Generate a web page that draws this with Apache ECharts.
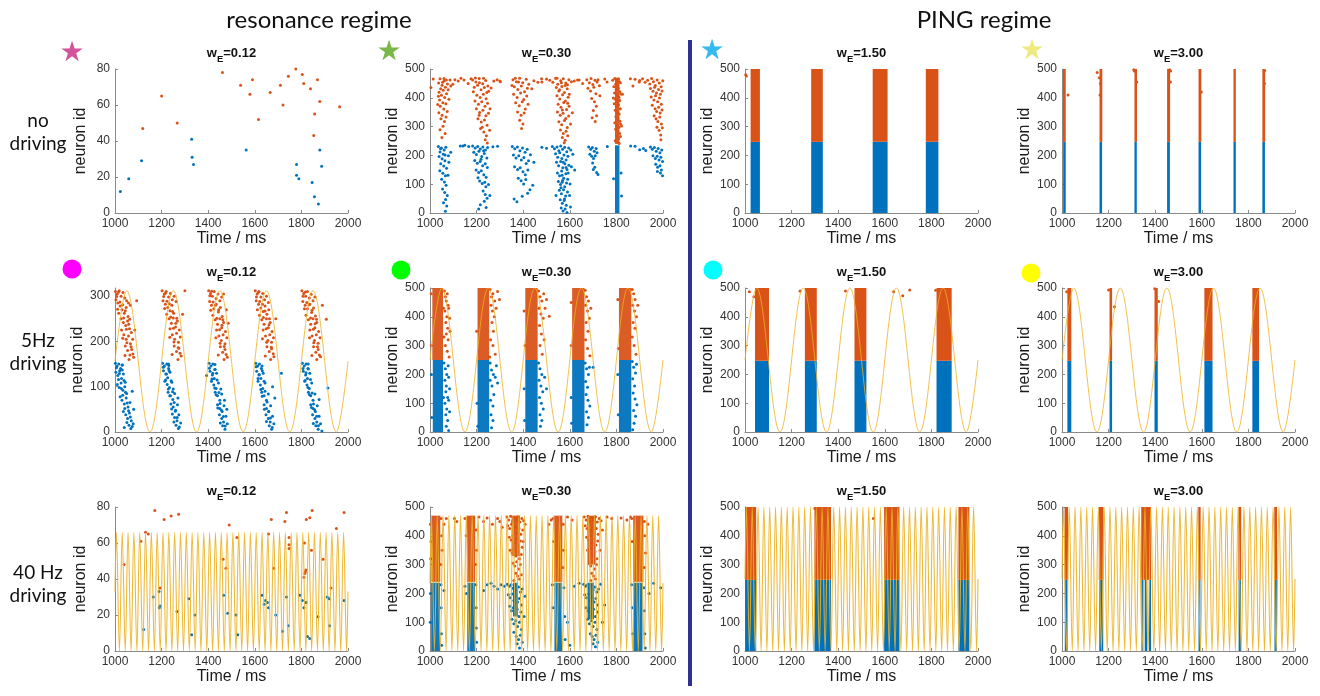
<!DOCTYPE html>
<html><head><meta charset="utf-8">
<script src="https://cdn.jsdelivr.net/npm/echarts@6/dist/echarts.min.js"></script>
<style>html,body{margin:0;padding:0;background:#fff}#c{width:1320px;height:696px}</style>
</head><body><div id="c"></div>
<script>
// ---------------- DATA ----------------
const timeTicks = [1000, 1200, 1400, 1600, 1800, 2000];
const weightLabels = ['0.12', '0.30', '1.50', '3.00'];
const rowLabels = ['no\ndriving', '5Hz\ndriving', '40 Hz\ndriving'];
const regimeLabels = ['resonance regime', 'PING regime'];
const yMaxRows = [[80, 500, 500, 500], [318, 500, 500, 500], [80, 500, 500, 500]];
const yIntervalRows = [[20, 100, 100, 100], [100, 100, 100, 100], [20, 100, 100, 100]];

// driving signals: extrema times (ms)
const driveStartEnd = [1000, 2000];
const drive5Peaks = [1050, 1250, 1450, 1650, 1850];
const drive5Troughs = [1150, 1350, 1550, 1750, 1950];
const drive40Peaks = [1006,1031,1056,1081,1106,1131,1156,1181,1206,1231,1256,1281,1306,1331,1356,1381,1406,1431,1456,1481,1506,1531,1556,1581,1606,1631,1656,1681,1706,1731,1756,1781,1806,1831,1856,1881,1906,1931,1956,1981];
const drive40Troughs = [1019,1044,1069,1094,1119,1144,1169,1194,1219,1244,1269,1294,1319,1344,1369,1394,1419,1444,1469,1494,1519,1544,1569,1594,1619,1644,1669,1694,1719,1744,1769,1794,1819,1844,1869,1894,1919,1944,1969,1994];
const drive5Amp = [312, 500, 500, 500];
const drive40Amp = [66, 470, 500, 500];

// ---- spikes: flat [t, id, ...]; lower = blue population, upper = orange population
// bursts: flat [tStart, tEnd, idLow, idHigh, ...] (densely filled spike blocks)
// no driving, wE=0.12
const nd012Lower = [1023,12, 1059,19, 1114,29, 1329,41, 1331,31, 1337,27, 1563,35, 1779,27, 1779,21, 1789,19, 1879,35, 1887,26, 1846,17, 1856,9, 1873,5];
const nd012Upper = [1119,47, 1200,65, 1267,50, 1461,78, 1539,71, 1579,66, 1590,74, 1616,52, 1666,67, 1710,71, 1721,60, 1744,76, 1776,80, 1804,77, 1810,72, 1839,69, 1869,74, 1879,62, 1857,55, 1853,43, 1964,59];
// no driving, wE=0.30
const nd030Upper = [1043,466, 1037,451, 1061,459, 1052,444, 1070,462, 1046,431, 1066,437, 1039,419, 1057,426, 1075,448, 1049,409, 1063,401, 1041,392, 1071,414, 1055,383, 1044,371, 1068,379, 1059,361, 1038,348, 1052,339, 1074,352, 1047,327, 1062,318, 1056,301, 1043,289, 1065,276, 1051,262, 1081,395, 1078,428, 1036,405, 1060,467, 1089,441, 1033,377, 1069,333, 1054,454,
 1004,436, 1014,465, 1086,462, 1107,463, 1121,458, 1146,462, 1164,450, 1098,447, 1133,468,
 1183,462, 1197,455, 1211,467, 1226,449, 1239,460, 1248,441, 1190,437, 1204,444, 1219,428, 1233,436, 1244,418, 1186,421, 1201,409, 1215,401, 1229,412, 1241,397, 1252,423, 1193,389, 1208,378, 1222,386, 1236,371, 1247,381, 1199,362, 1213,349, 1227,357, 1240,338, 1251,346, 1206,327, 1220,316, 1234,323, 1245,305, 1217,293, 1231,281, 1242,268, 1237,254, 1246,243, 1224,298, 1211,339, 1256,287, 1262,434, 1274,458, 1288,463, 1302,456, 1176,466, 1195,469, 1230,468, 1212,452, 1258,362,
 1356,463, 1371,456, 1385,468, 1398,452, 1413,464, 1424,447, 1362,438, 1377,429, 1392,441, 1406,421, 1418,433, 1359,412, 1374,401, 1389,417, 1402,394, 1415,406, 1368,383, 1383,372, 1396,386, 1409,361, 1376,351, 1391,339, 1404,347, 1385,322, 1399,309, 1393,293, 1421,378, 1437,431, 1446,459, 1463,454, 1479,466, 1352,443, 1366,468, 1380,455,
 1514,461, 1527,454, 1539,468, 1548,447, 1561,459, 1572,466, 1583,451, 1596,463, 1607,456, 1542,436, 1553,424, 1566,439, 1577,418, 1589,431, 1598,412, 1545,407, 1557,396, 1569,411, 1581,389, 1593,402, 1550,378, 1562,367, 1574,384, 1586,359, 1597,371, 1547,351, 1559,339, 1571,346, 1583,328, 1595,337, 1553,317, 1565,306, 1577,321, 1589,297, 1560,288, 1572,276, 1584,284, 1568,262, 1580,253, 1591,268, 1576,244, 1603,309, 1611,348, 1619,458, 1633,462, 1545,468, 1590,445, 1564,452, 1556,428, 1580,443, 1568,358, 1591,381,
 1673,463, 1684,452, 1691,467, 1699,446, 1708,461, 1717,455, 1727,442, 1678,433, 1689,424, 1703,437, 1712,414, 1694,398, 1706,386, 1714,371, 1701,356, 1715,338, 1709,318, 1696,331, 1729,407, 1721,463,
 1793,467, 1801,459, 1809,465, 1817,452, 1797,447, 1805,441, 1813,456, 1789,438, 1799,429, 1808,433, 1815,421, 1792,417, 1803,409, 1811,402, 1819,413, 1796,395, 1806,387, 1814,391, 1791,379, 1800,371, 1809,376, 1817,362, 1795,357, 1804,349, 1812,344, 1798,334, 1807,327, 1815,319, 1793,313, 1802,304, 1811,298, 1818,309, 1797,291, 1806,282, 1814,276, 1800,268, 1809,259, 1817,266, 1795,251, 1804,246, 1812,241, 1822,302, 1826,412, 1787,399, 1784,461, 1871,441, 1880,464, 1898,455,
 1912,466, 1923,454, 1934,461, 1943,448, 1951,467, 1959,456, 1967,443, 1975,462, 1984,451, 1992,438, 1999,459, 1946,432, 1957,423, 1964,437, 1972,417, 1981,429, 1989,412, 1996,424, 1949,403, 1961,392, 1968,407, 1977,386, 1985,399, 1993,378, 1954,374, 1966,362, 1973,352, 1981,367, 1988,347, 1996,358, 1962,338, 1970,327, 1978,318, 1986,333, 1993,309, 1974,298, 1983,287, 1990,271, 1997,296, 1991,254,
 1300,458, 1480,455, 1500,465, 1640,462, 1655,450, 1750,465, 1760,455, 1860,466, 1900,460];
const nd030Lower = [1036,231, 1049,226, 1061,219, 1043,212, 1057,204, 1068,228, 1039,196, 1052,188, 1064,181, 1046,171, 1059,163, 1071,155, 1042,147, 1055,138, 1066,129, 1050,117, 1062,108, 1069,96, 1054,83, 1063,71, 1067,47, 1058,36, 1072,24, 1066,6, 1077,131, 1081,176, 1089,211, 1079,199, 1074,61, 1045,223, 1065,201,
 1183,233, 1194,226, 1205,231, 1216,222, 1227,229, 1238,219, 1247,227, 1188,211, 1199,203, 1210,214, 1222,196, 1233,207, 1244,191, 1192,182, 1203,173, 1215,179, 1226,164, 1237,171, 1246,158, 1198,149, 1209,141, 1220,147, 1231,133, 1241,124, 1213,111, 1224,102, 1235,107, 1240,91, 1228,76, 1237,64, 1245,51, 1233,41, 1216,29, 1241,19, 1209,14, 1257,61, 1251,99, 1166,231, 1141,233, 1149,235, 1219,187, 1230,216, 1206,122,
 1353,231, 1364,223, 1375,229, 1386,216, 1397,226, 1408,211, 1417,221, 1358,201, 1369,191, 1381,199, 1392,184, 1403,193, 1413,172, 1423,181, 1363,161, 1376,151, 1387,157, 1399,143, 1409,133, 1420,149, 1379,121, 1391,112, 1402,101, 1411,116, 1429,81, 1419,69, 1396,58, 1361,49, 1373,39, 1441,96, 1446,176, 1431,202,
 1525,231, 1534,223, 1545,229, 1553,216, 1561,233, 1569,221, 1578,228, 1587,213, 1595,226, 1604,219, 1539,206, 1548,194, 1557,209, 1566,189, 1575,201, 1584,184, 1592,197, 1543,176, 1552,164, 1561,179, 1570,157, 1579,171, 1588,151, 1596,166, 1547,139, 1556,129, 1565,146, 1574,121, 1583,136, 1591,117, 1551,109, 1560,99, 1569,113, 1578,91, 1586,104, 1555,79, 1564,67, 1573,81, 1582,59, 1590,73, 1559,46, 1568,34, 1577,49, 1585,27, 1563,17, 1571,7, 1580,14, 1588,2, 1601,101, 1607,161, 1613,204, 1599,61, 1603,21, 1621,149, 1541,61, 1567,131, 1576,43, 1562,88, 1572,176, 1584,158, 1593,139, 1567,107,
 1681,229, 1690,221, 1697,227, 1705,214, 1713,224, 1686,204, 1694,197, 1702,189, 1709,199, 1717,209, 1698,174, 1707,159, 1715,141, 1721,134, 1701,151,
 1820,139, 1822,59, 1788,119, 1761,231, 1861,233,
 1916,224, 1926,217, 1946,229, 1954,221, 1963,227, 1971,214, 1979,224, 1987,209, 1995,219, 1957,199, 1967,189, 1975,197, 1983,184, 1991,194, 1998,179, 1969,169, 1977,159, 1987,164, 1993,149, 1989,139, 1998,129, 1976,144,
 1270,230, 1290,232, 1480,228, 1500,225, 1880,232, 1900,220, 1130,233];
const nd030LowerBursts = [1794,1813,0,235];
const nd030UpperBursts = [1794,1813,240,470];
// no driving, PING
const nd150LowerBursts = [1024,1064,0,247, 1284,1334,0,247, 1548,1612,0,247, 1776,1830,0,247];
const nd150UpperBursts = [1024,1064,247,500, 1284,1334,247,500, 1548,1612,247,500, 1776,1830,247,500];
const nd150Upper = [1003,480, 1006,476];
const nd300LowerBursts = [1005,1016,0,247, 1161,1172,0,247, 1311,1321,0,247, 1451,1463,0,247, 1586,1597,0,247, 1736,1746,0,247, 1860,1871,0,247];
const nd300UpperBursts = [1004,1016,247,500, 1161,1173,247,500, 1311,1322,247,500, 1451,1464,247,500, 1586,1598,247,500, 1736,1746,247,500, 1860,1872,247,500];
const nd300Upper = [1026,410, 1151,488, 1160,470, 1163,410, 1165,450, 1308,497, 1311,493, 1321,455, 1462,497, 1466,493, 1465,455, 1598,420, 1870,495, 1869,450];

// 5 Hz driving, wE=0.12
const d5012Upper = [1002,310, 1010,305, 1018,312, 1026,300, 1034,308, 1042,296, 1050,290, 1058,285, 1066,280, 1004,292, 1012,285, 1022,278, 1030,270, 1040,262, 1048,275, 1056,255, 1016,262, 1026,250, 1036,242, 1046,235, 1054,245, 1062,228, 1070,220, 1028,225, 1038,215, 1048,205, 1058,212, 1066,195, 1076,205, 1044,190, 1054,180, 1064,170, 1072,182, 1080,165, 1060,160, 1085,225, 1093,290,
 1007,299, 1021,287, 1033,281, 1044,268, 1011,271, 1037,252, 1049,227, 1059,238, 1033,207, 1069,188, 1051,197, 1077,172, 1043,169, 1063,249, 1015,309,
 1202,312, 1212,305, 1220,310, 1230,298, 1238,306, 1246,292, 1254,300, 1262,288, 1206,290, 1216,282, 1226,275, 1236,268, 1244,280, 1252,262, 1222,260, 1232,250, 1242,240, 1250,252, 1260,232, 1268,245, 1276,225, 1236,228, 1246,215, 1256,205, 1264,218, 1272,198, 1280,210, 1254,190, 1264,178, 1274,185, 1284,168, 1270,160, 1300,312, 1290,260,
 1209,299, 1223,289, 1233,283, 1247,266, 1213,273, 1239,254, 1251,229, 1261,240, 1235,209, 1271,186, 1253,199, 1279,174, 1245,171, 1265,251, 1217,307,
 1402,312, 1410,306, 1418,300, 1426,310, 1434,295, 1442,305, 1450,290, 1458,298, 1466,305, 1406,288, 1414,280, 1424,272, 1434,282, 1444,265, 1452,275, 1460,255, 1420,258, 1430,248, 1440,238, 1450,250, 1458,230, 1466,242, 1474,222, 1436,225, 1446,212, 1456,202, 1464,215, 1472,195, 1480,208, 1452,188, 1462,176, 1472,182, 1482,165, 1468,160, 1486,240, 1478,270,
 1407,301, 1421,287, 1431,280, 1445,270, 1411,269, 1437,251, 1449,226, 1459,236, 1433,208, 1469,189, 1451,196, 1477,171, 1443,170, 1463,248, 1415,311,
 1602,312, 1610,305, 1618,310, 1626,298, 1634,306, 1642,292, 1650,300, 1658,286, 1606,290, 1616,282, 1626,274, 1636,266, 1644,278, 1652,260, 1660,270, 1620,258, 1630,248, 1640,238, 1650,250, 1658,230, 1666,242, 1674,222, 1636,225, 1646,212, 1656,202, 1664,215, 1672,198, 1680,208, 1652,188, 1662,178, 1672,184, 1682,166, 1668,160, 1690,250,
 1607,298, 1621,288, 1633,282, 1644,267, 1611,270, 1637,253, 1649,228, 1661,237, 1633,206, 1671,187, 1651,198, 1679,173, 1645,168, 1663,250, 1615,308,
 1802,312, 1810,306, 1818,300, 1826,310, 1834,296, 1842,304, 1850,290, 1858,298, 1806,288, 1816,280, 1826,272, 1836,282, 1844,264, 1852,274, 1860,256, 1820,258, 1830,248, 1840,238, 1850,250, 1858,230, 1866,242, 1874,222, 1836,225, 1846,212, 1856,202, 1864,215, 1872,196, 1880,208, 1852,188, 1862,176, 1872,182, 1882,166, 1866,160, 1907,249, 1890,280,
 1807,300, 1823,286, 1833,281, 1846,269, 1813,272, 1839,252, 1851,227, 1859,239, 1835,208, 1869,188, 1853,197, 1877,170, 1845,169, 1865,249, 1817,309];
const d5012Lower = [1002,152, 1008,145, 1016,150, 1024,140, 1032,148, 1004,132, 1012,125, 1020,135, 1028,118, 1036,128, 1044,110, 1010,105, 1018,98, 1026,108, 1034,92, 1042,100, 1050,85, 1022,78, 1030,70, 1040,62, 1048,75, 1056,55, 1064,65, 1036,45, 1046,38, 1054,30, 1062,42, 1070,25, 1060,15, 1068,8, 1078,18, 1040,10, 1080,50, 1074,90,
 1006,142, 1019,129, 1031,137, 1015,116, 1039,114, 1027,96, 1045,88, 1033,81, 1052,64, 1042,52, 1058,47, 1066,33, 1051,21, 1074,12, 1030,148,
 1204,152, 1212,146, 1222,150, 1230,140, 1208,135, 1218,128, 1226,120, 1236,132, 1214,112, 1224,105, 1234,98, 1244,110, 1228,88, 1238,80, 1248,72, 1256,85, 1240,62, 1250,55, 1260,48, 1268,60, 1246,40, 1256,32, 1266,25, 1274,38, 1262,15, 1272,8, 1282,20, 1250,95, 1270,75, 1230,150,
 1207,143, 1221,128, 1232,136, 1217,115, 1241,113, 1229,95, 1247,89, 1235,80, 1254,65, 1243,51, 1259,46, 1267,32, 1253,22, 1276,11, 1231,147,
 1404,152, 1412,146, 1420,150, 1428,138, 1408,134, 1418,126, 1426,118, 1436,130, 1414,112, 1424,104, 1434,96, 1444,108, 1430,88, 1440,80, 1450,70, 1458,84, 1440,60, 1450,52, 1460,45, 1468,58, 1448,38, 1458,30, 1466,22, 1476,35, 1462,14, 1472,6, 1482,18, 1393,125, 1454,95, 1470,70, 1480,50,
 1405,141, 1420,130, 1430,138, 1416,117, 1438,115, 1428,97, 1446,87, 1434,82, 1451,63, 1441,53, 1457,48, 1465,34, 1452,20, 1473,13, 1429,149,
 1604,152, 1612,146, 1620,150, 1628,140, 1608,134, 1618,126, 1626,118, 1636,130, 1614,112, 1624,104, 1634,96, 1644,108, 1630,88, 1640,80, 1650,70, 1658,84, 1640,60, 1650,52, 1660,45, 1668,58, 1648,38, 1658,30, 1666,22, 1676,35, 1662,14, 1672,6, 1682,18, 1714,130, 1686,75, 1676,100,
 1606,144, 1619,127, 1632,135, 1614,118, 1640,112, 1626,94, 1644,90, 1632,79, 1653,66, 1641,50, 1659,45, 1667,31, 1650,23, 1675,10, 1631,146,
 1804,152, 1812,146, 1820,150, 1828,140, 1808,134, 1818,126, 1826,118, 1836,130, 1814,112, 1824,104, 1834,96, 1844,108, 1830,88, 1840,80, 1850,70, 1858,84, 1840,60, 1850,52, 1860,45, 1868,58, 1848,38, 1858,30, 1866,22, 1876,35, 1862,14, 1872,6, 1882,18, 1888,2, 1914,97, 1876,72,
 1807,140, 1820,131, 1830,139, 1816,114, 1839,116, 1828,98, 1846,86, 1834,83, 1852,62, 1843,54, 1857,49, 1866,35, 1851,19, 1873,14, 1829,150];
// 5 Hz driving, wE=0.30
const d5030LowerBursts = [1012,1056,0,250, 1204,1254,0,250, 1409,1462,0,250, 1610,1663,0,250, 1811,1864,0,250];
const d5030UpperBursts = [1010,1056,250,500, 1204,1254,250,500, 1409,1462,250,500, 1610,1663,250,500, 1811,1864,250,500];
const d5030Upper = [1062,490, 1066,470, 1070,455, 1074,480, 1078,440, 1064,420, 1072,400, 1080,430, 1068,380, 1076,360, 1084,395, 1070,340, 1078,320, 1066,300, 1086,350, 1074,280, 1082,260, 1058,430, 1060,330, 1005,480, 1006,300,
 1258,495, 1264,470, 1270,480, 1278,455, 1262,440, 1268,420, 1276,400, 1284,430, 1290,488, 1266,380, 1272,350, 1260,320, 1270,300, 1280,270, 1298,460, 1200,350, 1256,260,
 1466,490, 1472,470, 1480,455, 1488,480, 1468,430, 1476,410, 1486,395, 1494,430, 1500,460, 1512,402, 1470,370, 1478,340, 1490,320, 1472,300, 1482,270, 1404,420, 1408,300,
 1666,492, 1672,470, 1680,455, 1668,440, 1676,420, 1684,395, 1690,430, 1670,380, 1678,350, 1668,320, 1676,290, 1686,265, 1606,450, 1606,300,
 1868,495, 1874,480, 1880,460, 1870,440, 1878,420, 1886,400, 1872,380, 1880,360, 1868,330, 1876,300, 1884,270, 1892,440, 1806,460, 1808,290];
const d5030Lower = [1060,240, 1066,220, 1072,200, 1078,230, 1064,180, 1070,160, 1080,190, 1068,140, 1076,120, 1084,150, 1064,100, 1072,80, 1080,110, 1068,60, 1076,40, 1084,70, 1070,20, 1080,5, 1058,120, 1006,200, 1008,50,
 1258,240, 1264,215, 1272,200, 1258,180, 1266,160, 1274,130, 1260,110, 1270,90, 1280,190, 1262,60, 1270,40, 1264,15, 1285,230, 1290,170, 1202,100, 1205,20,
 1466,240, 1472,220, 1480,200, 1468,180, 1476,160, 1484,140, 1470,120, 1478,100, 1486,80, 1472,60, 1480,40, 1474,20, 1492,190, 1500,150, 1404,150, 1406,40,
 1666,240, 1672,220, 1680,200, 1668,175, 1676,155, 1684,225, 1670,130, 1678,110, 1686,90, 1672,70, 1680,50, 1674,25, 1700,225, 1606,120, 1608,30,
 1868,245, 1874,225, 1882,205, 1870,185, 1878,160, 1886,235, 1872,135, 1880,115, 1888,95, 1874,75, 1882,55, 1876,30, 1870,8, 1806,200, 1808,60];
// 5 Hz driving, PING
const d5150LowerBursts = [1043,1103,0,247, 1257,1308,0,247, 1470,1521,0,247, 1822,1887,0,247];
const d5150UpperBursts = [1043,1103,247,500, 1257,1308,247,500, 1470,1521,247,500, 1822,1887,247,500];
const d5150Upper = [1019,487, 1038,470, 1236,490, 1431,490, 1638,487, 1677,473, 1707,493, 1818,492];
const d5300LowerBursts = [1023,1040,0,247, 1204,1215,0,247, 1397,1411,0,247, 1611,1646,0,247, 1817,1846,0,247];
const d5300UpperBursts = [1023,1040,247,500, 1204,1215,247,500, 1397,1411,247,500, 1611,1646,247,500, 1817,1846,247,500];
const d5300Upper = [1020,487, 1200,493, 1225,435, 1415,453, 1398,497];

// 40 Hz driving, wE=0.12
const d40012Upper = [1039,48, 1111,61, 1131,66, 1143,65, 1171,78, 1193,35, 1211,73, 1241,75, 1273,76, 1464,51, 1476,46, 1490,70, 1523,63, 1659,65, 1671,73, 1681,46, 1729,72, 1736,77, 1747,63, 1747,59, 1747,57, 1811,41, 1813,60, 1815,43, 1817,44, 1819,45, 1821,73, 1836,74, 1843,56, 1846,78, 1893,51, 1927,35, 1950,68, 1983,77];
const d40012Lower = [1123,12, 1164,30, 1189,33, 1190,24, 1193,25, 1266,22, 1317,29, 1329,9, 1343,20, 1466,31, 1484,21, 1519,20, 1527,9, 1631,31, 1640,26, 1646,28, 1654,27, 1659,24, 1690,20, 1719,11, 1736,30, 1744,14, 1793,31, 1804,28, 1811,24, 1820,27, 1826,8, 1836,7, 1871,19, 1911,30, 1919,29, 1921,14, 1983,28];
// 40 Hz driving, wE=0.30
const d40030LowerBursts = [1005,1043,0,237, 1160,1193,0,237, 1356,1378,120,237, 1534,1567,0,237, 1676,1704,110,237, 1873,1912,0,237];
const d40030UpperBursts = [1006,1044,240,470, 1158,1194,240,470, 1350,1386,330,470, 1533,1568,240,470, 1675,1712,300,470, 1872,1916,240,470];
const d40030Upper = [1002,440, 1004,380, 1003,320, 1048,460, 1050,400, 1047,300, 1052,350, 1060,440, 1070,460,
 1150,460, 1155,400, 1198,420, 1200,350, 1197,300, 1210,465, 1230,450, 1245,462, 1268,440, 1290,460, 1300,450, 1310,430,
 1330,465, 1338,455, 1346,468, 1354,450, 1362,462, 1370,455, 1378,466, 1386,448, 1394,460, 1402,452, 1334,435, 1342,425, 1350,440, 1358,418, 1366,430, 1374,410, 1382,425, 1390,405, 1398,420, 1340,395, 1348,385, 1356,400, 1364,375, 1372,390, 1380,368, 1388,382, 1396,360, 1344,350, 1352,340, 1360,355, 1368,330, 1376,345, 1384,320, 1392,335, 1356,305, 1364,295, 1372,310, 1380,285, 1388,300, 1368,270, 1376,260, 1384,250, 1360,245, 1392,265, 1400,380, 1408,440,
 1528,460, 1530,380, 1572,440, 1573,350, 1570,290, 1520,455, 1510,440, 1590,465, 1610,455,
 1662,465, 1670,455, 1678,468, 1686,450, 1694,462, 1702,455, 1710,466, 1718,448, 1726,460, 1734,452, 1666,435, 1674,425, 1682,440, 1690,418, 1698,430, 1706,410, 1714,425, 1722,405, 1672,395, 1680,385, 1688,400, 1696,375, 1704,390, 1712,368, 1720,382, 1676,350, 1684,340, 1692,355, 1700,330, 1708,345, 1716,320, 1682,305, 1690,295, 1698,310, 1706,285, 1714,300, 1694,270, 1702,260, 1710,250, 1690,245, 1730,350, 1740,420, 1760,465, 1780,460,
 1866,460, 1868,380, 1920,450, 1922,400, 1925,340, 1920,290, 1935,440, 1860,465, 1845,455, 1820,462, 1105,460, 1115,450];
const d40030Lower = [1002,200, 1001,100, 1047,230, 1048,150, 1049,60, 1050,20, 1060,210,
 1150,225, 1156,200, 1197,230, 1198,150, 1199,80, 1200,30, 1230,210, 1245,230, 1262,235, 1275,225, 1290,215, 1305,230, 1320,225,
 1332,232, 1340,225, 1348,230, 1356,218, 1364,228, 1372,212, 1380,222, 1388,205, 1396,215, 1336,195, 1344,185, 1352,198, 1360,175, 1368,190, 1376,170, 1384,182, 1392,160, 1342,155, 1350,140, 1358,150, 1366,130, 1374,145, 1382,120, 1390,135, 1352,110, 1360,95, 1368,105, 1376,85, 1384,100, 1392,75, 1360,65, 1370,50, 1380,40, 1388,55, 1374,25, 1384,10, 1396,30, 1404,120, 1408,190,
 1525,230, 1528,150, 1575,220, 1578,120, 1580,40, 1600,20, 1590,100,
 1660,232, 1668,225, 1676,230, 1684,218, 1692,228, 1700,212, 1708,222, 1716,205, 1724,215, 1732,232, 1664,195, 1672,185, 1680,198, 1688,175, 1696,190, 1704,170, 1712,182, 1720,160, 1670,150, 1678,140, 1686,150, 1694,130, 1702,145, 1710,120, 1718,135, 1676,110, 1684,95, 1692,105, 1700,85, 1708,100, 1716,75, 1688,60, 1696,50, 1704,40, 1712,55, 1700,25, 1710,15, 1720,30, 1740,100, 1750,160, 1640,235, 1620,225,
 1865,230, 1868,150, 1870,60, 1918,220, 1920,140, 1922,60, 1924,10, 1940,200, 1960,235, 1990,220];
// 40 Hz driving, PING
const d40150LowerBursts = [1001,1048,0,247, 1298,1369,0,247, 1597,1663,0,247, 1916,1963,0,247];
const d40150UpperBursts = [1001,1048,247,500, 1298,1369,247,500, 1597,1663,247,500, 1916,1963,247,500];
const d40150Upper = [1300,495, 1551,460];
const d40150Lower = [1620,35];
const d40300LowerBursts = [1012,1024,0,247, 1160,1177,0,247, 1341,1349,0,247, 1355,1366,0,247, 1373,1382,0,247, 1586,1594,0,247, 1758,1768,0,247, 1912,1922,0,247];
const d40300UpperBursts = [1011,1026,247,500, 1158,1178,247,500, 1340,1382,247,500, 1585,1595,247,500, 1757,1769,247,500, 1911,1923,247,500];

// ---------------- LAYOUT / STYLE ----------------
const COL_LEFT = [115, 430, 745, 1062];
const ROW_TOP = [69, 288, 507];
const GW = 233, GH = 144;
const BLUE = '#0072BD', ORANGE = '#D95319', DRIVE = '#EDB120';
const AXIS_FONT = 'Liberation Sans';
const starColors = ['#d2559b', '#7ab648', '#35baf0', '#eeea80'];
const dotColors = ['#ff00ff', '#00ff00', '#00ffff', '#ffff00'];

const panels = [
  {r:0,c:0, lower:nd012Lower, upper:nd012Upper},
  {r:0,c:1, lower:nd030Lower, upper:nd030Upper, lowerB:nd030LowerBursts, upperB:nd030UpperBursts, bOp:0.95},
  {r:0,c:2, lowerB:nd150LowerBursts, upperB:nd150UpperBursts, upper:nd150Upper},
  {r:0,c:3, lowerB:nd300LowerBursts, upperB:nd300UpperBursts, upper:nd300Upper},
  {r:1,c:0, lower:d5012Lower, upper:d5012Upper, drive:'5'},
  {r:1,c:1, lower:d5030Lower, upper:d5030Upper, lowerB:d5030LowerBursts, upperB:d5030UpperBursts, bOp:0.95, drive:'5'},
  {r:1,c:2, lowerB:d5150LowerBursts, upperB:d5150UpperBursts, upper:d5150Upper, drive:'5'},
  {r:1,c:3, lowerB:d5300LowerBursts, upperB:d5300UpperBursts, upper:d5300Upper, drive:'5'},
  {r:2,c:0, lower:d40012Lower, upper:d40012Upper, drive:'40'},
  {r:2,c:1, lower:d40030Lower, upper:d40030Upper, lowerB:d40030LowerBursts, upperB:d40030UpperBursts, bOp:0.95, drive:'40'},
  {r:2,c:2, lowerB:d40150LowerBursts, upperB:d40150UpperBursts, upper:d40150Upper, lower:d40150Lower, drive:'40'},
  {r:2,c:3, lowerB:d40300LowerBursts, upperB:d40300UpperBursts, drive:'40'}
];

function pairs(a){ const o=[]; for(let i=0;i<a.length;i+=2) o.push([a[i],a[i+1]]); return o; }
function quads(a){ const o=[]; for(let i=0;i<a.length;i+=4) o.push([a[i],a[i+1],a[i+2],a[i+3]]); return o; }
function driveLine(kind, amp){
  const pk = kind === '5' ? drive5Peaks : drive40Peaks;
  const tr = kind === '5' ? drive5Troughs : drive40Troughs;
  const pts = [[driveStartEnd[0], amp/2], [driveStartEnd[1], amp/2]];
  pk.forEach(t => pts.push([t, amp]));
  tr.forEach(t => pts.push([t, 0]));
  pts.sort((a,b)=>a[0]-b[0]);
  return pts;
}

const grid=[], xAxis=[], yAxis=[], series=[], graphic=[];
panels.forEach((p, i) => {
  const left = COL_LEFT[p.c], top = ROW_TOP[p.r];
  const yMax = yMaxRows[p.r][p.c], yInt = yIntervalRows[p.r][p.c];
  grid.push({left, top, width: GW, height: GH, containLabel:false});
  const axisCommon = {
    axisLine:{show:true, onZero:false, lineStyle:{color:'#8a8a8a', width:1}},
    axisTick:{show:true, inside:true, length:3, lineStyle:{color:'#8a8a8a'}},
    splitLine:{show:false},
    nameTextStyle:{fontFamily:AXIS_FONT, fontSize:16, color:'#1a1a1a'}
  };
  xAxis.push(Object.assign({gridIndex:i, type:'value', min:timeTicks[0], max:timeTicks[timeTicks.length-1], interval:timeTicks[1]-timeTicks[0],
    name:'Time / ms', nameLocation:'middle', nameGap:17,
    axisLabel:{fontFamily:AXIS_FONT, fontSize:12, color:'#333', margin:5, showMinLabel:true, showMaxLabel:true, formatter: v => String(v)}}, axisCommon));
  yAxis.push(Object.assign({gridIndex:i, type:'value', min:0, max:yMax, interval:yInt,
    name:'neuron id', nameLocation:'middle', nameGap:26,
    axisLabel:{fontFamily:AXIS_FONT, fontSize:12, color:'#333', margin:5, showMaxLabel: yMax % yInt === 0, formatter: v => String(v)}}, axisCommon));

  const op = p.bOp || 1;
  [[p.lowerB, BLUE], [p.upperB, ORANGE]].forEach(([b, col]) => {
    if (!b) return;
    series.push({type:'custom', xAxisIndex:i, yAxisIndex:i, data:quads(b), z:3, silent:true,
      encode:{x:[0,1], y:[2,3]},
      renderItem:(params, api) => {
        const a = api.coord([api.value(0), api.value(3)]);
        const b2 = api.coord([api.value(1), api.value(2)]);
        return {type:'rect', shape:{x:a[0], y:a[1], width:Math.max(b2[0]-a[0], 1.5), height:b2[1]-a[1]},
          style:{fill:col, opacity:op}};
      }});
  });
  [[p.lower, BLUE], [p.upper, ORANGE]].forEach(([d, col]) => {
    if (!d) return;
    series.push({type:'scatter', xAxisIndex:i, yAxisIndex:i, data:pairs(d), symbol:'circle', symbolSize:3,
      itemStyle:{color:col, opacity:1}, z:4, silent:true});
  });
  if (p.drive) {
    const amp = p.drive === '5' ? drive5Amp[p.c] : drive40Amp[p.c];
    series.push({type:'line', xAxisIndex:i, yAxisIndex:i, data:driveLine(p.drive, amp), smooth:0.36,
      symbol:'none', lineStyle:{color:DRIVE, width: p.drive === '40' ? 1.1 : 1, opacity: p.drive === '40' ? 0.9 : 0.8}, z:6, silent:true});
  }
  graphic.push({type:'text', x: left + GW/2, y: top - 16, silent:true, z:10,
    style:{text:'{b|w}{s|E}{b|=' + weightLabels[p.c] + '}', align:'center', verticalAlign:'middle',
      rich:{b:{fontFamily:AXIS_FONT, fontSize:13, fontWeight:'bold', fill:'#111', lineHeight:22, verticalAlign:'middle'},
            s:{fontFamily:AXIS_FONT, fontSize:9.5, fontWeight:'bold', fill:'#111', lineHeight:22, verticalAlign:'bottom'}}}});
});

graphic.push({type:'text', x:319, y:20, style:{text:regimeLabels[0], font:'24px Lato', fill:'#111', align:'center', verticalAlign:'middle'}});
graphic.push({type:'text', x:984, y:20, style:{text:regimeLabels[1], font:'24px Lato', fill:'#111', align:'center', verticalAlign:'middle'}});
const rowLabelY = [132, 352, 584];
rowLabels.forEach((t, r) => graphic.push({type:'text', x:38, y:rowLabelY[r],
  style:{text:t, font:'19px Lato', fill:'#111', align:'center', verticalAlign:'middle', lineHeight:23}}));
graphic.push({type:'line', shape:{x1:690, y1:40, x2:690, y2:686}, style:{stroke:'#2e3192', lineWidth:4}});
const starPos = [[72,54],[389,53],[712,52],[1032,52]];
starPos.forEach((s, k) => graphic.push({type:'text', x:s[0], y:s[1],
  style:{text:'\u2605', font:'28px "DejaVu Sans"', fill:starColors[k], align:'center', verticalAlign:'middle'}}));
const dotPos = [[72,269],[401,270],[713,270],[1031,273]];
dotPos.forEach((s, k) => graphic.push({type:'circle', shape:{cx:s[0], cy:s[1], r:9.5}, style:{fill:dotColors[k]}}));

const chart = echarts.init(document.getElementById('c'), null, {renderer:'canvas'});
chart.setOption({animation:false, backgroundColor:'#fff', grid, xAxis, yAxis, series, graphic});
</script></body></html>
